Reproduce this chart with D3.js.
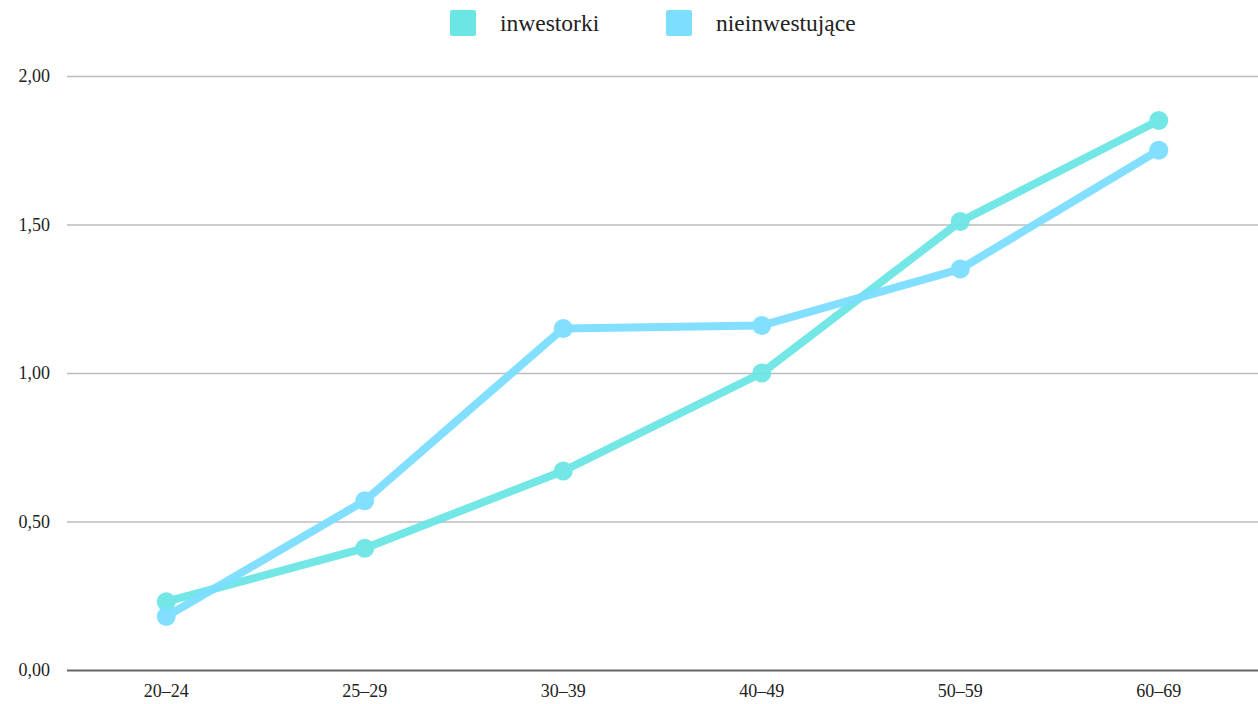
<!DOCTYPE html>
<html>
<head>
<meta charset="utf-8">
<script src="https://cdn.jsdelivr.net/npm/d3@7"></script>
<style>
  html, body { margin: 0; padding: 0; background: #fff; }
  svg { display: block; font-family: "Liberation Serif", "DejaVu Serif", serif; }
</style>
</head>
<body>
<svg id="chart" width="1258" height="704"></svg>
<script>
const categories = ["20-24", "25-29", "30-39", "40-49", "50-59", "60-69"];
const seriesNames = ["inwestorki", "nieinwestujące"];
const inwestorki = [0.23, 0.41, 0.67, 1.00, 1.51, 1.85];
const nieinwestujace = [0.18, 0.57, 1.15, 1.16, 1.35, 1.75];
const yTicks = [0, 0.5, 1.0, 1.5, 2.0];
const colors = ["#6ce6e4", "#7ddeff"];

const svg = d3.select("#chart");
const margin = { left: 67, right: 0, top: 76, bottom: 34 };
const W = 1258, H = 704;
const FONT = "'Liberation Serif', 'DejaVu Serif', serif";

const x = d3.scaleBand().domain(categories).range([margin.left, W - margin.right]);
const y = d3.scaleLinear().domain([0, 2]).range([H - margin.bottom, margin.top]);

const fmt = d => d.toFixed(2).replace(".", ",");

// gridlines + y labels
const yAxis = svg.append("g")
  .attr("transform", `translate(${margin.left},0)`)
  .call(d3.axisLeft(y).tickValues(yTicks).tickSize(-(W - margin.left - margin.right)).tickFormat(fmt).tickPadding(17))
  .attr("font-family", FONT);
yAxis.select(".domain").remove();
yAxis.selectAll(".tick line")
  .attr("stroke", d => d === 0 ? "#666" : "#bdbdbd")
  .attr("stroke-width", d => d === 0 ? 2 : 1.5);
yAxis.selectAll(".tick text")
  .attr("font-size", 18).attr("fill", "#222");

// x axis labels
const xAxis = svg.append("g")
  .attr("transform", `translate(0,${H - margin.bottom})`)
  .call(d3.axisBottom(x).tickSize(0).tickPadding(14))
  .attr("font-family", FONT);
xAxis.select(".domain").remove();
xAxis.selectAll(".tick text")
  .attr("font-size", 18).attr("fill", "#222")
  .text(d => d.replace("-", "–"));

const data = [inwestorki, nieinwestujace];
const line = d3.line()
  .x((d, i) => x(categories[i]) + x.bandwidth() / 2)
  .y(d => y(d));

data.forEach((vals, s) => {
  const g = svg.append("g").attr("opacity", 0.95);
  g.append("path")
    .datum(vals)
    .attr("d", line)
    .attr("fill", "none")
    .attr("stroke", colors[s])
    .attr("stroke-width", 8)
    .attr("stroke-linejoin", "round");
  g.selectAll("circle")
    .data(vals)
    .join("circle")
    .attr("cx", (d, i) => x(categories[i]) + x.bandwidth() / 2)
    .attr("cy", d => y(d))
    .attr("r", 9.5)
    .attr("fill", colors[s]);
});

// legend
const legendX = [450, 666];
seriesNames.forEach((name, i) => {
  const lg = svg.append("g").attr("transform", `translate(${legendX[i]},10)`);
  lg.append("rect").attr("width", 26).attr("height", 26).attr("rx", 2).attr("fill", colors[i]);
  lg.append("text").attr("x", 50).attr("y", 21).attr("font-size", 23.5).attr("fill", "#222").text(name);
});
</script>
</body>
</html>
